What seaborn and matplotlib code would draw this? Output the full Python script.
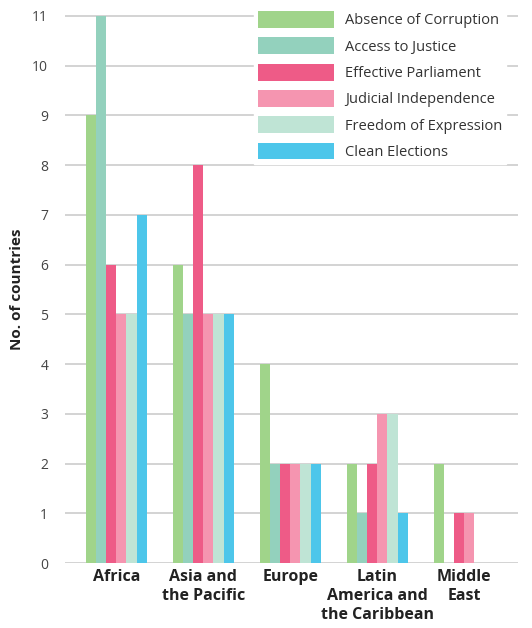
import matplotlib
matplotlib.use("Agg")
import matplotlib.pyplot as plt
import seaborn as sns
import pandas as pd

# data
regions = ["Africa", "Asia and\nthe Pacific", "Europe",
           "Latin\nAmerica and\nthe Caribbean", "Middle\nEast"]
pillars = ["Absence of Corruption", "Access to Justice", "Effective Parliament",
           "Judicial Independence", "Freedom of Expression", "Clean Elections"]
absence_of_corruption = [9, 6, 4, 2, 2]
access_to_justice = [11, 5, 2, 1, 0]
effective_parliament = [6, 8, 2, 2, 1]
judicial_independence = [5, 5, 2, 3, 1]
freedom_of_expression = [5, 5, 2, 3, 0]
clean_elections = [7, 5, 2, 1, 0]

colors = ["#a0d48a", "#93d1bd", "#ee5b87", "#f595b0", "#bfe4d5", "#4dc6ea"]

series = [absence_of_corruption, access_to_justice, effective_parliament,
          judicial_independence, freedom_of_expression, clean_elections]
rows = []
for p, vals in zip(pillars, series):
    for r, v in zip(regions, vals):
        rows.append({"region": r, "pillar": p, "count": v})
df = pd.DataFrame(rows)

sns.set_style("white")
plt.rcParams['font.family'] = ['Open Sans', 'DejaVu Sans']

fig = plt.figure(figsize=(5.32, 6.28), dpi=100)
ax = fig.add_axes([0.122, 0.1035, 0.852, 0.873])

sns.barplot(data=df, x="region", y="count", hue="pillar", hue_order=pillars,
            order=regions, palette=colors, saturation=1, width=0.7,
            linewidth=0, ax=ax)

ax.set_ylim(0, 11.02)
ax.set_xlim(-0.59, 4.62)
ax.set_yticks(range(0, 12))
ax.yaxis.grid(True, color="#cccccc", linewidth=1.2)
ax.set_axisbelow(True)
for s in ax.spines.values():
    s.set_visible(False)
ax.tick_params(axis="both", length=0)
ax.tick_params(axis="y", labelsize=10, labelcolor="#444444", pad=12)
ax.tick_params(axis="x", pad=4)
for lab in ax.get_xticklabels():
    lab.set_fontweight("bold")
    lab.set_fontsize(11.5)
    lab.set_color("#222222")
    lab.set_linespacing(1.25)
ax.set_xlabel("")
ax.set_ylabel("No. of countries", fontsize=11, fontweight="bold", color="#222222",
              labelpad=6)

leg = ax.legend(loc="upper right", bbox_to_anchor=(0.99, 1.028), frameon=True,
                fancybox=False, edgecolor="white", facecolor="white", framealpha=1,
                fontsize=10.5, handlelength=5.2, handleheight=1.4, labelspacing=0.62,
                handletextpad=0.75, borderpad=0.3)
for t in leg.get_texts():
    t.set_color("#333333")

fig.savefig("out.png", dpi=100)
